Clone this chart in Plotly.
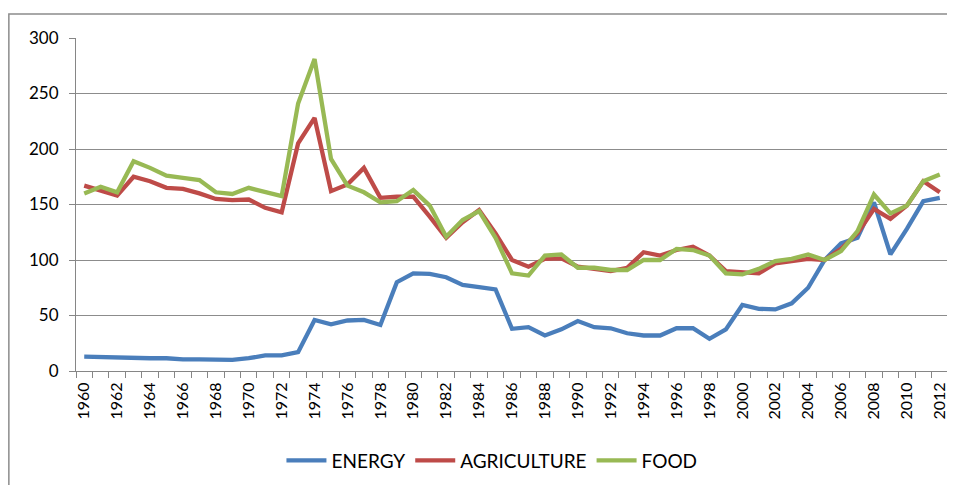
import plotly.graph_objects as go

years = list(range(1960, 2013))

energy = [13, 12.5, 12, 12, 11.5, 11.5, 10.5, 10.5, 10.5, 10, 11.5, 14, 14, 17, 46,
          42, 45.5, 46, 41.5, 80, 88, 87.5, 84.5, 77.5, 75.5, 73.5, 38, 39.5, 32,
          37.5, 45, 39.5, 38.5, 34, 32, 32, 38.5, 38.5, 29, 37.5, 59.5, 56, 55.5,
          61, 75, 100, 115, 120, 152, 105, 128, 153, 156]

agriculture = [167, 163, 158, 175, 171, 165, 164, 160, 155, 154, 154.5, 147, 143, 205,
               228, 162, 168, 183, 156, 157, 157, 139, 120, 134, 145, 124, 100, 94,
               101, 101.5, 94, 92, 90, 93, 107, 104, 109, 112, 104, 90, 89, 88, 97,
               99, 101, 100, 110, 124, 146, 137, 149, 171, 161]

food = [160, 166, 161, 189, 183, 176, 174, 172, 161, 159.5, 165, 161, 157.5, 241,
        281, 191, 167, 161, 152, 153, 163, 149, 121, 136, 144, 120, 88, 86, 104,
        105, 93, 93, 91, 91, 100, 100, 110, 109, 104, 88, 87, 92, 99, 101, 105,
        100, 108, 126, 159, 142, 149, 171, 177]

series = [("ENERGY", energy, "#4A7EBB"),
          ("AGRICULTURE", agriculture, "#BE4B48"),
          ("FOOD", food, "#98B954")]

fig = go.Figure()
for name, vals, color in series:
    fig.add_trace(go.Scatter(x=years, y=vals, name=name, mode="lines",
                             line=dict(color=color, width=4.3)))

fig.update_xaxes(
    range=[1959.5, 2012.5],
    tickmode="array",
    tickvals=years[::2],
    ticktext=[str(y) for y in years[::2]],
    tickangle=-90,
    ticks="outside", ticklen=0,
    ticklabelstandoff=4,
    showgrid=False, zeroline=False,
    showline=True, linecolor="#868686", linewidth=1,
    minor=dict(tick0=1959.5, dtick=1, ticks="outside", ticklen=6,
               tickcolor="#868686", showgrid=False),
    tickfont=dict(size=16, color="black"),
)
fig.update_yaxes(
    range=[0, 300], dtick=50,
    ticks="outside", ticklen=6, tickcolor="#868686",
    ticklabelstandoff=7,
    showgrid=True, gridcolor="#8C8C8C", gridwidth=1,
    zeroline=False,
    showline=True, linecolor="#868686", linewidth=1,
    tickfont=dict(size=17, color="black"),
)

# outer chart border: only the left and top edges show in the source
fig.add_shape(type="path", xref="paper", yref="paper",
              path="M -0.077,-0.8 L -0.077,1.072 L 1.3,1.072",
              line=dict(color="#8C8C8C", width=1.5), layer="below")

# page body has an 8px margin, so the figure is 8px smaller each way
fig.update_layout(
    width=947, height=477,
    margin=dict(l=68, r=7, t=30, b=113),
    paper_bgcolor="white", plot_bgcolor="white",
    font=dict(family="Lato, Open Sans, sans-serif", color="black"),
    showlegend=True,
    legend=dict(orientation="h", x=0.477, xanchor="center",
                y=-0.265, yanchor="middle",
                font=dict(size=19, color="black"), itemwidth=40),
)

fig.write_html("out.html")
